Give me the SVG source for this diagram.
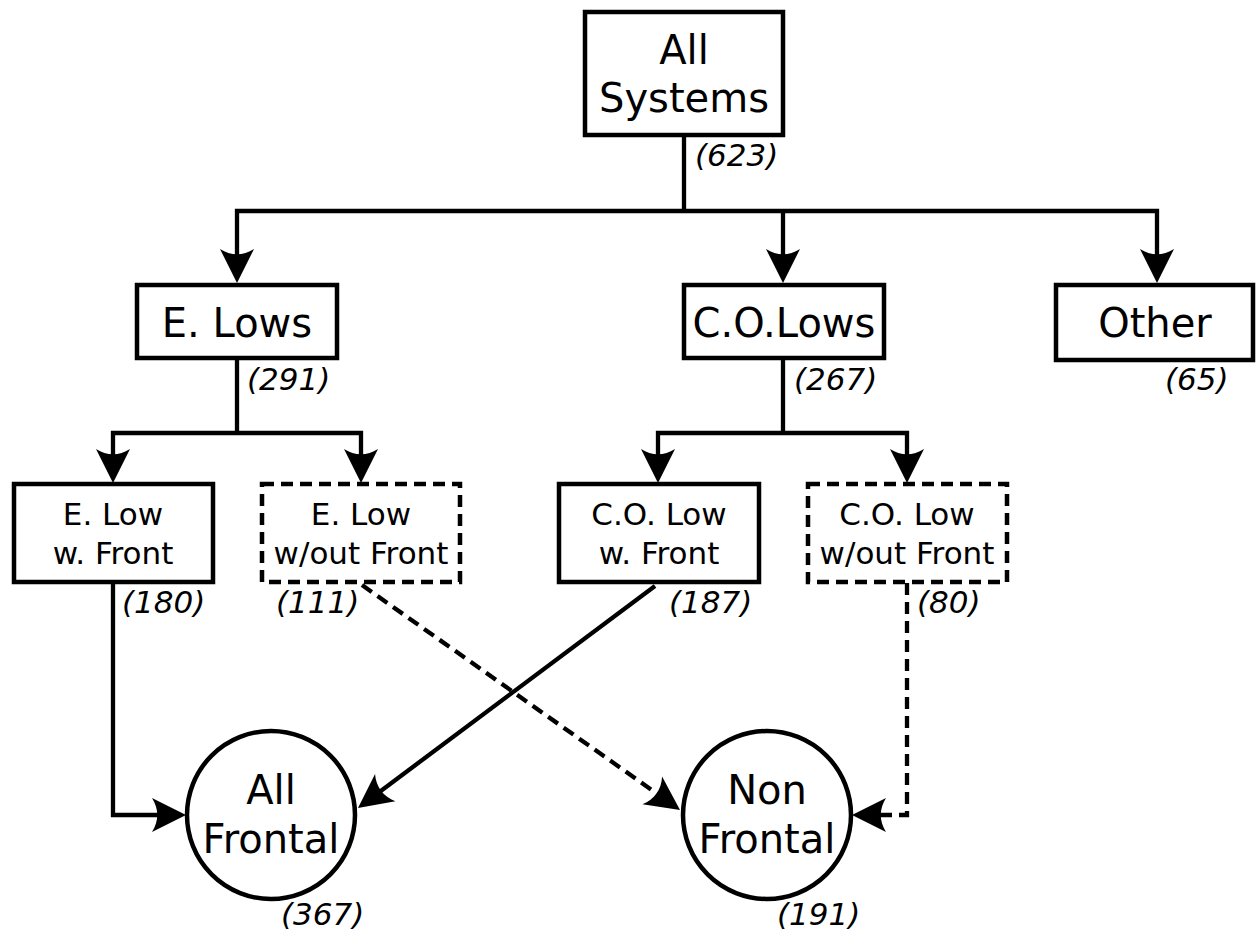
<svg xmlns="http://www.w3.org/2000/svg" width="1256" height="937" viewBox="0 0 1256 937">
<style>
.box{fill:#fff;stroke:#000;stroke-width:4.5}
.dash{stroke-dasharray:12,7}
.lbl{font-family:"DejaVu Sans",sans-serif;font-size:40px;fill:#000;text-anchor:middle}
.sm{font-size:31px}
.num{font-family:"DejaVu Sans",sans-serif;font-style:italic;font-size:31px;fill:#000}
.ln{fill:none;stroke:#000;stroke-width:4.3;stroke-linejoin:miter}
</style>
<defs>
<marker id="ah" markerUnits="userSpaceOnUse" orient="auto" viewBox="-30 -20 44 40" refX="0" refY="0" markerWidth="44" markerHeight="40" overflow="visible">
<path d="M8,0 L-26,-17 C-19,-6 -19,6 -26,17 Z" fill="#000" stroke="none"/>
</marker>
</defs>
<rect width="1256" height="937" fill="#fff"/>
<g id="connectors">
<path class="ln" d="M684,135 V211"/>
<path class="ln" d="M684,211 H1157 V275" marker-end="url(#ah)"/>
<path class="ln" d="M684,211 H237 V275" marker-end="url(#ah)"/>
<path class="ln" d="M783,211 V275" marker-end="url(#ah)"/>
<path class="ln" d="M237,358 V433"/>
<path class="ln" d="M237,433 H113 V475" marker-end="url(#ah)"/>
<path class="ln" d="M237,433 H361 V475" marker-end="url(#ah)"/>
<path class="ln" d="M783,358 V433"/>
<path class="ln" d="M783,433 H658 V475" marker-end="url(#ah)"/>
<path class="ln" d="M783,433 H907 V475" marker-end="url(#ah)"/>
<path class="ln" d="M113,583 V815 H178" marker-end="url(#ah)"/>
<path class="ln" d="M655,586 L364.4,803.2" marker-end="url(#ah)"/>
<path class="ln dash" d="M362,585 L673.5,805.4" marker-end="url(#ah)"/>
<path class="ln dash" d="M907,583 V815 H860" marker-end="url(#ah)"/>
</g>
<g id="all-systems">
<rect class="box" x="585" y="12" width="198" height="123"/>
<text class="lbl" x="684" y="64">All</text>
<text class="lbl" x="684" y="112">Systems</text>
<text class="num" x="695" y="166">(623)</text>
</g>
<g id="e-lows">
<rect class="box" x="137" y="285" width="200" height="73"/>
<text class="lbl" x="237" y="337">E. Lows</text>
<text class="num" x="247" y="390">(291)</text>
</g>
<g id="co-lows">
<rect class="box" x="684" y="285" width="200" height="73"/>
<text class="lbl" x="784" y="337">C.O.Lows</text>
<text class="num" x="794" y="390">(267)</text>
</g>
<g id="other">
<rect class="box" x="1056" y="285" width="197" height="75"/>
<text class="lbl" x="1155" y="337">Other</text>
<text class="num" x="1165" y="390">(65)</text>
</g>
<g id="e-low-front">
<rect class="box" x="14" y="484" width="199" height="98"/>
<text class="lbl sm" x="113" y="525">E. Low</text>
<text class="lbl sm" x="113" y="564">w. Front</text>
<text class="num" x="122" y="613">(180)</text>
</g>
<g id="e-low-nofront">
<rect class="box dash" x="262" y="484" width="198" height="98"/>
<text class="lbl sm" x="361" y="525">E. Low</text>
<text class="lbl sm" x="361" y="564">w/out Front</text>
<text class="num" x="276" y="613">(111)</text>
</g>
<g id="co-low-front">
<rect class="box" x="559" y="484" width="200" height="98"/>
<text class="lbl sm" x="659" y="525">C.O. Low</text>
<text class="lbl sm" x="659" y="564">w. Front</text>
<text class="num" x="669" y="613">(187)</text>
</g>
<g id="co-low-nofront">
<rect class="box dash" x="808" y="484" width="199" height="98"/>
<text class="lbl sm" x="907" y="525">C.O. Low</text>
<text class="lbl sm" x="907" y="564">w/out Front</text>
<text class="num" x="917" y="613">(80)</text>
</g>
<g id="all-frontal">
<circle class="box" cx="271" cy="815" r="84"/>
<text class="lbl" x="271" y="804">All</text>
<text class="lbl" x="271" y="853">Frontal</text>
<text class="num" x="281" y="925">(367)</text>
</g>
<g id="non-frontal">
<circle class="box" cx="767" cy="815" r="84"/>
<text class="lbl" x="767" y="804">Non</text>
<text class="lbl" x="767" y="853">Frontal</text>
<text class="num" x="777" y="925">(191)</text>
</g>
</svg>
